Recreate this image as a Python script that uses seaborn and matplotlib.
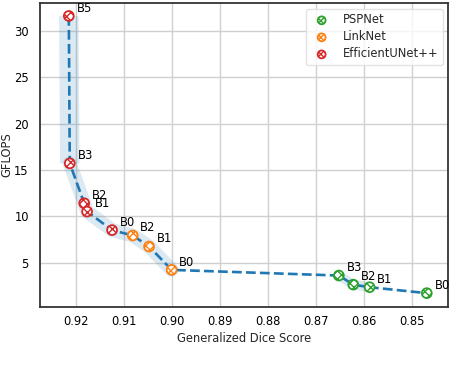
import matplotlib
matplotlib.use("Agg")
import matplotlib.pyplot as plt
import seaborn as sns
import pandas as pd

# ---- data ----
models = ["PSPNet", "LinkNet", "EfficientUNet++"]
colors = ["#2ca02c", "#ff7f0e", "#d62728"]

psp_labels = ["B3", "B2", "B1", "B0"]
psp_dice = [0.8653, 0.8623, 0.8589, 0.8470]
psp_gflops = [3.60, 2.62, 2.34, 1.70]

link_labels = ["B2", "B1", "B0"]
link_dice = [0.9082, 0.9048, 0.9001]
link_gflops = [7.92, 6.73, 4.21]

eff_labels = ["B5", "B3", "B2", "B1", "B0"]
eff_dice = [0.9215, 0.9213, 0.9183, 0.9177, 0.9125]
eff_gflops = [31.6, 15.7, 11.4, 10.5, 8.5]

xticks = [0.92, 0.91, 0.90, 0.89, 0.88, 0.87, 0.86, 0.85]
yticks = [5, 10, 15, 20, 25, 30]

sns.set_style("whitegrid")
plt.rcParams["font.family"] = ["DejaVu Sans"]
FS = 8.3

fig = plt.figure(figsize=(4.76, 3.74), dpi=100)
ax = fig.add_axes([0.084, 0.179, 0.858, 0.813])

# translucent bands around each group
band_color = "#1f77b4"
ax.plot(eff_dice[:2], eff_gflops[:2], lw=14, alpha=0.16,
        color=band_color, solid_capstyle="butt", zorder=1)
ax.plot(eff_dice[1:] + link_dice, eff_gflops[1:] + link_gflops, lw=10, alpha=0.16,
        color=band_color, solid_capstyle="round", solid_joinstyle="round", zorder=1)
ax.plot(psp_dice[:3], psp_gflops[:3], lw=7, alpha=0.16,
        color=band_color, solid_capstyle="round", solid_joinstyle="round", zorder=1)

# dashed Pareto line
all_df = pd.DataFrame({
    "dice": eff_dice + link_dice + psp_dice,
    "gflops": eff_gflops + link_gflops + psp_gflops,
})
sns.lineplot(data=all_df, x="dice", y="gflops", sort=False, estimator=None,
             color="#1f77b4", linestyle="--", lw=1.9, ax=ax, zorder=2)

groups = [
    (psp_dice, psp_gflops, psp_labels),
    (link_dice, link_gflops, link_labels),
    (eff_dice, eff_gflops, eff_labels),
]
for (dx, gy, labs), name, c in zip(groups, models, colors):
    ax.scatter(dx, gy, s=50, facecolor="white", edgecolor=c, hatch="xxxx",
               linewidth=1.3, label=name, zorder=3)
    for xv, yv, lab in zip(dx, gy, labs):
        ax.annotate(lab, (xv, yv), xytext=(5.5, 3), textcoords="offset points",
                    fontsize=FS, color="black")

ax.set_xlim(0.9275, 0.8425)
ax.set_ylim(0.2, 33.0)
ax.set_xticks(xticks)
ax.set_xticklabels([f"{t:.2f}" for t in xticks])
ax.set_yticks(yticks)
ax.tick_params(axis="x", labelsize=FS, colors="black", length=0, pad=5.5)
ax.tick_params(axis="y", labelsize=FS, colors="black", length=0, pad=8)
ax.set_xlabel("Generalized Dice Score", fontsize=FS, labelpad=3)
ax.set_ylabel("GFLOPS", fontsize=FS)
ax.yaxis.set_label_coords(-0.066, 0.5)
ax.grid(True, color="#d0d0d0", lw=1)
for s in ax.spines.values():
    s.set_color("#333333")
    s.set_linewidth(1.3)

ax.legend(loc="upper right", fontsize=FS, frameon=True, framealpha=0.8,
          edgecolor="#dddddd", markerscale=0.8, borderaxespad=0.5,
          labelspacing=0.35)

fig.savefig("out.png", dpi=100)
